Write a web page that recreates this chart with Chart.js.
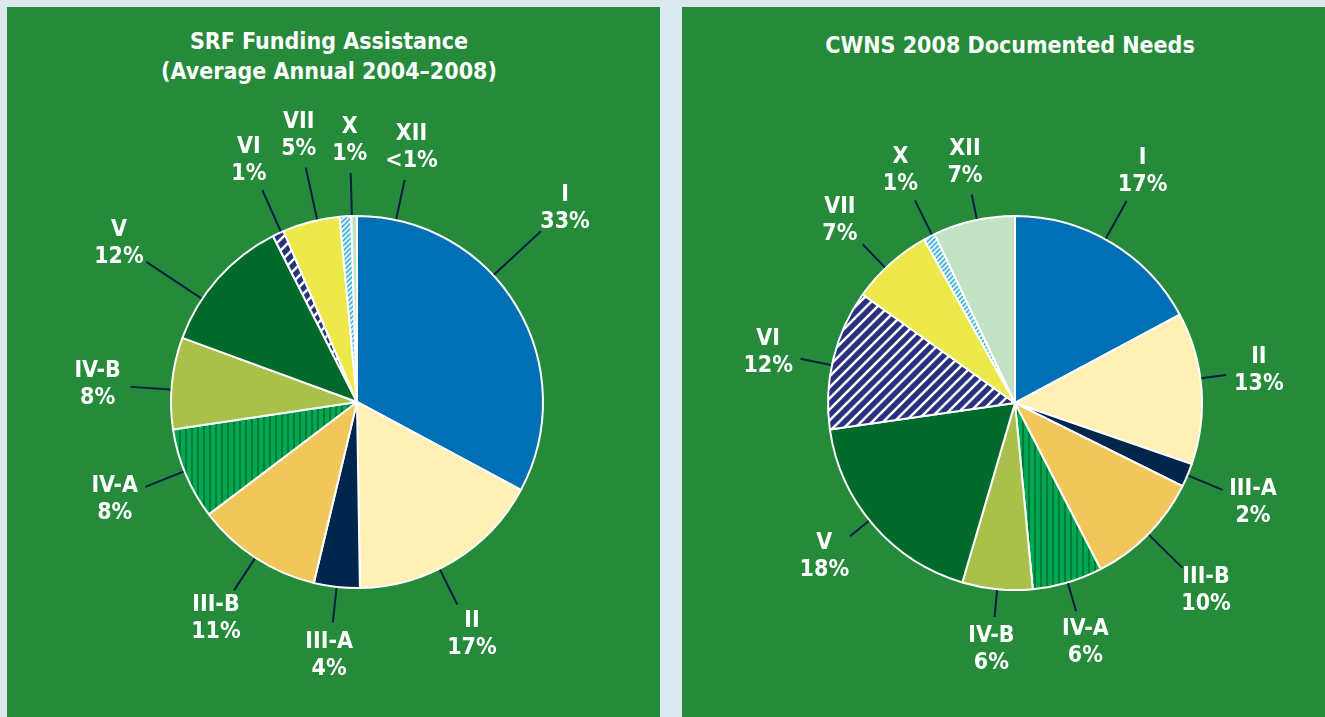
<!DOCTYPE html>
<html>
<head>
<meta charset="utf-8">
<script src="https://cdn.jsdelivr.net/npm/chart.js@4.4.1/dist/chart.umd.min.js"></script>
<style>
  html, body { margin: 0; padding: 0; }
  body { width: 1325px; height: 717px; background: #dce8ef; position: relative; overflow: hidden;
         font-family: 'Liberation Sans Narrow', 'DejaVu Sans Condensed', Roboto, sans-serif; }
  .panel { position: absolute; top: 7px; height: 710px; background: #258a3a; }
  .title { position: absolute; left: 0; top: 19px; color: #fff; font-weight: bold; font-size: 23px;
           line-height: 30px; text-align: center; }
  canvas { position: absolute; left: 0; top: 0; }
</style>
</head>
<body>

<div class="panel" style="left:7px; width:653px;">
  <div class="title" style="width:644px;">SRF Funding Assistance<br>(Average Annual 2004–2008)</div>
  <canvas id="srfChart" width="653" height="710"></canvas>
</div>

<div class="panel" style="left:682px; width:643px;">
  <div class="title" style="width:656px; top:23px;">CWNS 2008 Documented Needs</div>
  <canvas id="cwnsChart" width="643" height="710"></canvas>
</div>

<script>
// ================================
// DATA
// ================================

// needs categories, clockwise from 12 o'clock
const categories = ["I", "II", "III-A", "III-B", "IV-A", "IV-B", "V", "VI", "VII", "X", "XII"];

// SRF funding assistance, average annual 2004-2008 (%)
const srfValues = [33, 17, 4, 11, 8, 8, 12, 1, 5, 1, 0.5];
const srfText = ["33%", "17%", "4%", "11%", "8%", "8%", "12%", "1%", "5%", "1%", "<1%"];

// CWNS 2008 documented needs (%)
const cwnsValues = [17, 13, 2, 10, 6, 6, 18, 12, 7, 1, 7];
const cwnsText = ["17%", "13%", "2%", "10%", "6%", "6%", "18%", "12%", "7%", "1%", "7%"];

// ================================
// FILL PATTERNS
// ================================

function makePattern(size, draw) {
  let c = document.createElement("canvas");
  c.width = size;
  c.height = size;
  let g = c.getContext("2d");
  draw(g, size);
  return g.createPattern(c, "repeat");
}

// IV-A : vertical green stripes
let stripeGreen = makePattern(6, (g, s) => {
  g.fillStyle = "#00a84f";
  g.fillRect(0, 0, s, s);
  g.fillStyle = "#007a3a";
  g.fillRect(4, 0, 2, s);
});

// diagonal "/" lines on a solid ground
function diagonal(bg, fg, size, lw) {
  return makePattern(size, (g, s) => {
    g.fillStyle = bg;
    g.fillRect(0, 0, s, s);
    g.strokeStyle = fg;
    g.lineWidth = lw;
    g.beginPath();
    g.moveTo(-2, s + 2); g.lineTo(s + 2, -2);
    g.moveTo(-2, 2); g.lineTo(2, -2);
    g.moveTo(s - 2, s + 2); g.lineTo(s + 2, s - 2);
    g.stroke();
  });
}

let hatchNavy = diagonal("#29307d", "#ffffff", 11, 2.6);  // VI
let hatchCyan = diagonal("#d9eff8", "#29a9df", 5, 1.3);   // X

let sliceColors = [
  "#0070b6",   // I
  "#fff0b6",   // II
  "#00264e",   // III-A
  "#f1c75b",   // III-B
  stripeGreen, // IV-A
  "#a9c04b",   // IV-B
  "#006a2d",   // V
  hatchNavy,   // VI
  "#ede94b",   // VII
  hatchCyan,   // X
  "#c3e1c3"    // XII
];

// ================================
// LABELS WITH LEADER LINES
// ================================

const leaderLabels = {
  id: "leaderLabels",
  afterDatasetsDraw(chart, args, opts) {
    let ctx = chart.ctx;
    let meta = chart.getDatasetMeta(0);
    ctx.save();
    meta.data.forEach((arc, i) => {
      let p = arc.getProps(["x", "y", "startAngle", "endAngle", "outerRadius"], true);
      let a = (p.startAngle + p.endAngle) / 2 + (opts.shift[i] || 0) * Math.PI / 180;
      let R = opts.radius[i];
      let cos = Math.cos(a), sin = Math.sin(a);

      // leader line
      ctx.strokeStyle = "#0b1f45";
      ctx.lineWidth = 2;
      ctx.beginPath();
      ctx.moveTo(p.x + (p.outerRadius + 1) * cos, p.y + (p.outerRadius + 1) * sin);
      ctx.lineTo(p.x + (R - 33) * cos, p.y + (R - 33) * sin);
      ctx.stroke();

      // two-line label
      let tx = p.x + R * cos, ty = p.y + R * sin;
      ctx.fillStyle = "#ffffff";
      ctx.font = "bold 23px 'Liberation Sans Narrow', 'DejaVu Sans Condensed', Roboto, sans-serif";
      ctx.textAlign = "center";
      ctx.textBaseline = "middle";
      ctx.fillText(chart.data.labels[i], tx, ty - 13.5);
      ctx.fillText(opts.texts[i], tx, ty + 13.5);
    });
    ctx.restore();
  }
};

// ================================
// CHARTS
// ================================

function makePie(id, values, texts, radius, padding, labelRadius, labelShift) {
  let ctx = document.getElementById(id).getContext("2d");
  return new Chart(ctx, {
    type: "pie",
    data: {
      labels: categories,
      datasets: [{
        data: values,
        backgroundColor: sliceColors,
        borderColor: "#ffffff",
        borderWidth: 2
      }]
    },
    options: {
      responsive: false,
      animation: false,
      devicePixelRatio: 1,
      radius: radius,
      layout: { padding: padding },
      plugins: {
        legend: { display: false },
        tooltip: { enabled: false },
        leaderLabels: { texts: texts, radius: labelRadius, shift: labelShift }
      }
    },
    plugins: [leaderLabels]
  });
}

let srfChart = makePie("srfChart", srfValues, srfText, 186,
  { left: 100, right: 53, top: 150, bottom: 70 },
  [284, 259, 255, 258, 261, 260, 286, 265, 273, 262, 260],
  [-12, 5, 0, 0, 1, -2, -8, 1, 2, 2, 13]);

let cwnsChart = makePie("cwnsChart", cwnsValues, cwnsText, 187,
  { left: 100, right: 77, top: 150, bottom: 68 },
  [264, 246, 258, 268, 250, 248, 245, 252, 253, 259, 246],
  [-2, -3, 0, 0, 0, 0, 2, -2, -2, 1, 1]);
</script>
</body>
</html>
